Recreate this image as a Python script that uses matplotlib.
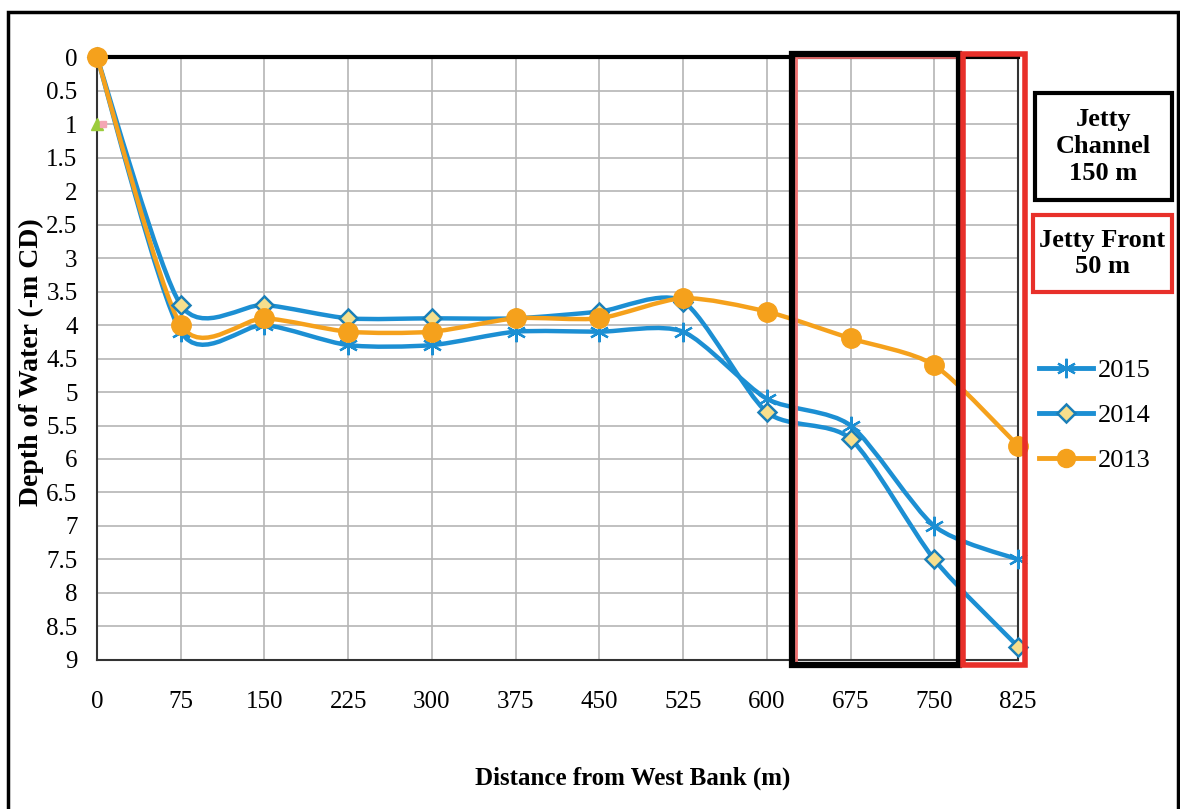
import matplotlib
matplotlib.use("Agg")
import matplotlib.pyplot as plt
from matplotlib.path import Path
from matplotlib.patches import PathPatch, Rectangle
import numpy as np

plt.rcParams['font.family'] = ['Liberation Serif', 'DejaVu Serif']

distances = ['0', '75', '150', '225', '300', '375', '450', '525', '600', '675', '750', '825']
depth_2015 = [0, 4.1, 4.0, 4.3, 4.3, 4.1, 4.1, 4.1, 5.1, 5.5, 7.0, 7.5]
depth_2014 = [0, 3.7, 3.7, 3.9, 3.9, 3.9, 3.8, 3.65, 5.3, 5.7, 7.5, 8.8]
depth_2013 = [0, 4.0, 3.9, 4.1, 4.1, 3.9, 3.9, 3.6, 3.8, 4.2, 4.6, 5.8]
ytick_labels = ['0', '0.5', '1', '1.5', '2', '2.5', '3', '3.5', '4', '4.5', '5',
                '5.5', '6', '6.5', '7', '7.5', '8', '8.5', '9']

BLUE = '#1c8fd3'
ORANGE = '#f5a11c'
ASTERISK = (6, 2, 0)


def smooth_path(xs, ys, k=8.0):
    # smoothed line like excel, bezier segments between the points
    pts = np.column_stack([xs, ys]).astype(float)
    n = len(pts)
    verts = [pts[0]]
    codes = [Path.MOVETO]
    for i in range(n - 1):
        p0 = pts[i - 1] if i > 0 else pts[i]
        p1 = pts[i]
        p2 = pts[i + 1]
        p3 = pts[i + 2] if i + 2 < n else pts[i + 1]
        c1 = p1 + (p2 - p0) / k
        c2 = p2 - (p3 - p1) / k
        verts += [c1, c2, p2]
        codes += [Path.CURVE4] * 3
    return Path(verts, codes)


fig = plt.figure(figsize=(11.8, 8.09), dpi=100)
ax = fig.add_axes([0.0822, 0.1842, 0.7805, 0.7453])

x = np.arange(len(distances))

for ys, col in [(depth_2015, BLUE), (depth_2014, BLUE), (depth_2013, ORANGE)]:
    ax.add_patch(PathPatch(smooth_path(x, ys), facecolor='none', edgecolor=col,
                           lw=3.2, zorder=3, capstyle='round', clip_on=False))

ax.plot(x, depth_2015, ls='none', marker=ASTERISK, ms=14, mew=1.6, color=BLUE,
        mec=BLUE, zorder=4, clip_on=False)
ax.plot(x, depth_2014, ls='none', marker='D', ms=9, mew=1.8, mfc='#f7df8c', mec='#1a7fb8',
        zorder=5, clip_on=False)
ax.plot(x, depth_2013, ls='none', marker='o', ms=14, color=ORANGE, zorder=6, clip_on=False)
# hidden series markers at 0 / 1
ax.plot([0], [1], ls='none', marker='^', ms=9, color='#9ccc3c', zorder=4, clip_on=False)
ax.plot([0.07], [1], ls='none', marker='s', ms=5, color='#f4a6b4', zorder=4, clip_on=False)

# legend handles
h15, = ax.plot([], [], color=BLUE, lw=3.5, marker=ASTERISK, ms=14, mew=1.6, mec=BLUE)
h14, = ax.plot([], [], color=BLUE, lw=3.5, marker='D', ms=9, mew=1.8, mfc='#f7df8c', mec='#1a7fb8')
h13, = ax.plot([], [], color=ORANGE, lw=3.5, marker='o', ms=13)
fig.legend([h15, h14, h13], ['2015', '2014', '2013'], loc='upper left',
           bbox_to_anchor=(0.860, 0.586), frameon=False, fontsize=19,
           handlelength=2.05, handletextpad=0.2, labelspacing=0.82)

ax.set_xlim(0, 11)
ax.set_ylim(9, 0)
ax.set_xticks(x)
ax.set_xticklabels(distances, fontsize=18)
ax.set_yticks(np.arange(0, 9.01, 0.5))
ax.set_yticklabels(ytick_labels, fontsize=18)
ax.tick_params(axis='both', length=0)
ax.tick_params(axis='x', pad=22)
ax.tick_params(axis='y', pad=14)
ax.grid(True, color='#b5b5b5', lw=1.2)
ax.set_axisbelow(True)
for side in ['left', 'bottom', 'right']:
    ax.spines[side].set_color('#333333')
    ax.spines[side].set_linewidth(1.5)
ax.spines['top'].set_color('black')
ax.spines['top'].set_linewidth(3)

# jetty channel / front boxes
ax.add_patch(Rectangle((8.35, 0.0), 1.92, 9.05, fill=False, ec='#f07070', lw=2,
                       zorder=7, clip_on=False))
ax.add_patch(Rectangle((8.30, -0.04), 2.00, 9.12, fill=False, ec='black', lw=4.5,
                       zorder=8, clip_on=False))
ax.add_patch(Rectangle((10.34, -0.04), 0.74, 9.12, fill=False, ec='#e8302a', lw=4,
                       zorder=8, clip_on=False))

fig.text(0.536, 0.038, 'Distance from West Bank (m)', fontsize=18, fontweight='bold',
         ha='center', va='center')
fig.text(0.027, 0.5525, 'Depth of Water (-m CD)', rotation=90, fontsize=20,
         fontweight='bold', ha='center', va='center')

fig.add_artist(Rectangle((0.877, 0.7528), 0.116, 0.1323, transform=fig.transFigure,
                         fill=False, ec='black', lw=3))
fig.text(0.935, 0.819, 'Jetty\nChannel\n150 m', fontsize=19, fontweight='bold',
         ha='center', va='center', linespacing=1.2)
fig.add_artist(Rectangle((0.8754, 0.639), 0.1178, 0.0952, transform=fig.transFigure,
                         fill=False, ec='#e8302a', lw=3))
fig.text(0.9343, 0.6867, 'Jetty Front\n50 m', fontsize=19, fontweight='bold',
         ha='center', va='center', linespacing=1.2)

fig.add_artist(Rectangle((0.007, -0.02), 0.991, 1.005, transform=fig.transFigure,
                         fill=False, ec='black', lw=2.5))

fig.savefig('out.png', dpi=100)
